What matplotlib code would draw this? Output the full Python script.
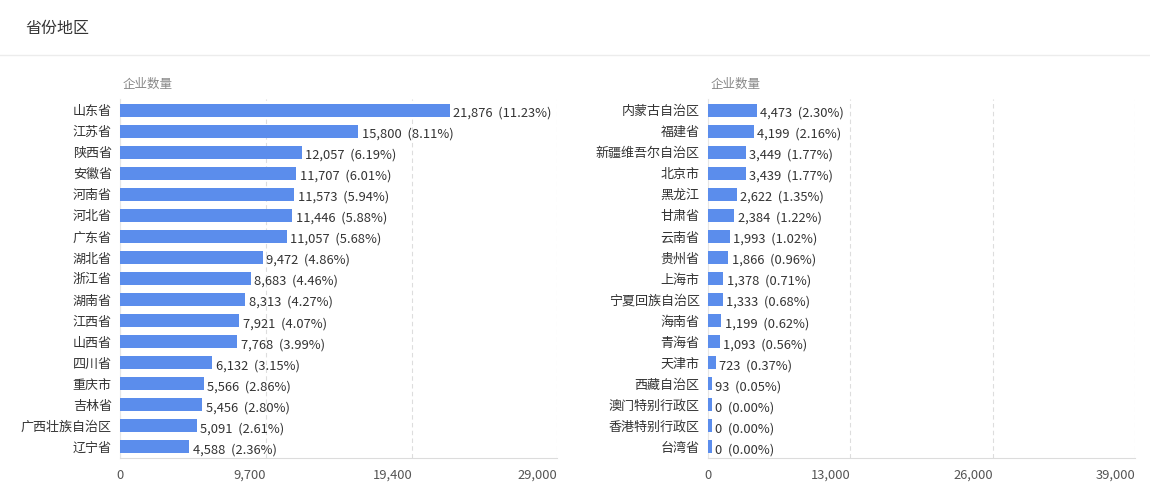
import matplotlib
matplotlib.use("Agg")
import matplotlib.pyplot as plt
from matplotlib.ticker import FixedLocator, FuncFormatter

plt.rcParams['font.family'] = ['Noto Sans CJK SC', 'DejaVu Sans']

# 左侧
left_names = ['山东省', '江苏省', '陕西省', '安徽省', '河南省', '河北省', '广东省', '湖北省',
              '浙江省', '湖南省', '江西省', '山西省', '四川省', '重庆市', '吉林省',
              '广西壮族自治区', '辽宁省']
left_vals = [21876, 15800, 12057, 11707, 11573, 11446, 11057, 9472, 8683, 8313, 7921,
             7768, 6132, 5566, 5456, 5091, 4588]
left_pct = ['11.23%', '8.11%', '6.19%', '6.01%', '5.94%', '5.88%', '5.68%', '4.86%',
            '4.46%', '4.27%', '4.07%', '3.99%', '3.15%', '2.86%', '2.80%', '2.61%', '2.36%']
left_ticks = [0, 9700, 19400, 29000]

# 右侧
right_names = ['内蒙古自治区', '福建省', '新疆维吾尔自治区', '北京市', '黑龙江', '甘肃省', '云南省',
               '贵州省', '上海市', '宁夏回族自治区', '海南省', '青海省', '天津市', '西藏自治区',
               '澳门特别行政区', '香港特别行政区', '台湾省']
right_vals = [4473, 4199, 3449, 3439, 2622, 2384, 1993, 1866, 1378, 1333, 1199, 1093,
              723, 93, 0, 0, 0]
right_pct = ['2.30%', '2.16%', '1.77%', '1.77%', '1.35%', '1.22%', '1.02%', '0.96%',
             '0.71%', '0.68%', '0.62%', '0.56%', '0.37%', '0.05%', '0.00%', '0.00%', '0.00%']
right_ticks = [0, 13000, 26000, 39000]

bar_color = '#5B8DEC'
W, H = 1150, 497
fig = plt.figure(figsize=(W / 100, H / 100), dpi=100)

fig.text(25 / W, 1 - 28 / H, '省份地区', fontsize=11.5, color='#333333', va='center', ha='left')
fig.add_artist(plt.Line2D([0, 1], [1 - 55 / H, 1 - 55 / H], color='#ececec', lw=1))


def draw(rect, names, vals, pct, ticks):
    ax = fig.add_axes(rect)
    y = list(range(len(names)))
    xmax = ticks[-1]
    minw = xmax * 0.009
    shown = [max(v, minw) for v in vals]
    ax.barh(y, shown, height=0.62, color=bar_color, zorder=3)
    for yi, v, s, p in zip(y, vals, shown, pct):
        ax.text(s + xmax * 0.008, yi + 0.14, f'{v:,}  ({p})', va='center', ha='left',
                fontsize=9.3, color='#333333', zorder=4)
    ax.set_ylim(len(names) - 0.5, -0.5)
    ax.set_xlim(0, xmax)
    ax.set_yticks(y)
    ax.set_yticklabels(names, fontsize=9.4, color='#333333')
    ax.xaxis.set_major_locator(FixedLocator(ticks))
    ax.xaxis.set_major_formatter(FuncFormatter(lambda v, _: f'{int(v):,}'))
    ax.tick_params(axis='x', length=0, labelsize=9.3, labelcolor='#555555', pad=8)
    ax.tick_params(axis='y', length=0, pad=6)
    for i, lab in enumerate(ax.get_xticklabels()):
        lab.set_ha('center' if i == 0 else 'right')
    ax.grid(axis='x', color='#dddddd', linestyle=(0, (4, 3)), lw=0.8, zorder=0)
    for side in ['top', 'right']:
        ax.spines[side].set_visible(False)
    ax.spines['left'].set_color('#e6e6e6')
    ax.spines['bottom'].set_color('#dcdcdc')
    ax.text(0.007, 1.025, '企业数量', transform=ax.transAxes, fontsize=9, color='#888888',
            ha='left', va='bottom')
    return ax


draw([120 / W, 1 - 457.5 / H, (557 - 120) / W, 358 / H], left_names, left_vals, left_pct, left_ticks)
draw([708 / W, 1 - 457.5 / H, (1135 - 708) / W, 358 / H], right_names, right_vals, right_pct, right_ticks)

fig.savefig('out.png', dpi=100, facecolor='white')
